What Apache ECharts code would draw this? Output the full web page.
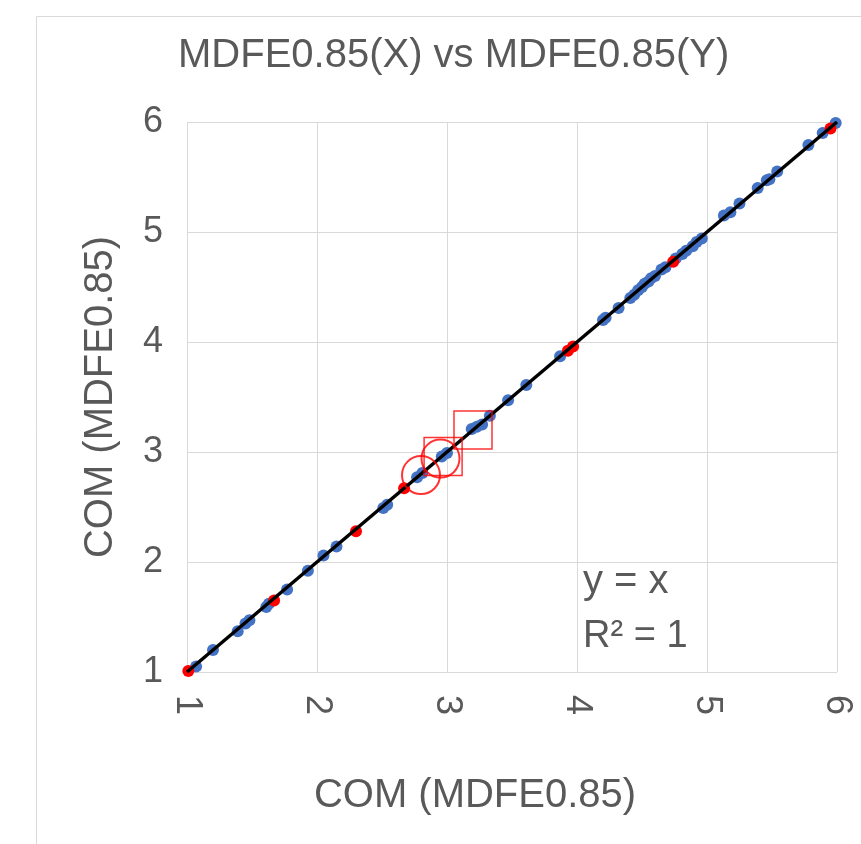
<!DOCTYPE html>
<html>
<head>
<meta charset="utf-8">
<script src="https://cdn.jsdelivr.net/npm/echarts@6/dist/echarts.min.js"></script>
<style>html,body{margin:0;padding:0;background:#fff;}#c{width:861px;height:844px;}</style>
</head>
<body>
<div id="c"></div>
<script>
const titleText = 'MDFE0.85(X) vs MDFE0.85(Y)';
const xName = 'COM (MDFE0.85)';
const yName = 'COM (MDFE0.85)';
const axisTicks = [1, 2, 3, 4, 5, 6];

const blueX = [1.07,1.20,1.39,1.45,1.48,1.61,1.63,1.77,1.93,2.05,2.15,2.51,2.54,2.77,2.81,2.96,3.00,3.19,3.23,3.27,3.33,3.47,3.61,3.87,4.20,4.22,4.32,4.41,4.44,4.47,4.50,4.52,4.55,4.57,4.60,4.65,4.68,4.76,4.81,4.84,4.89,4.92,4.96,5.13,5.18,5.25,5.39,5.46,5.48,5.54,5.78,5.89,5.99];
const blueY = [1.05,1.20,1.37,1.44,1.47,1.59,1.62,1.75,1.92,2.06,2.14,2.49,2.52,2.77,2.81,2.96,2.99,3.21,3.23,3.25,3.33,3.47,3.61,3.87,4.20,4.22,4.31,4.40,4.43,4.47,4.50,4.53,4.55,4.58,4.60,4.66,4.68,4.76,4.80,4.83,4.87,4.91,4.94,5.15,5.18,5.26,5.40,5.47,5.48,5.55,5.79,5.90,5.99];
const redX = [1.01,1.67,2.30,2.67,3.93,3.97,4.74,5.95];
const redY = [1.01,1.65,2.28,2.67,3.92,3.96,4.73,5.94];
const circleX = [2.80,2.95];
const circleY = [2.79,2.94];
const squareX = [2.97,3.20];
const squareY = [2.96,3.20];
const trendX = [1, 6];
const trendY = [1, 6];
const eqText = 'y = x';
const r2Text = 'R² = 1';

const zip = (a, b) => a.map((v, i) => [v, b[i]]);
const FONT = "'Liberation Sans', Arial, sans-serif";
const TXT = '#595959';

const chart = echarts.init(document.getElementById('c'), null, {renderer: 'canvas'});
const axisCommon = {
  type: 'value', min: axisTicks[0], max: axisTicks[axisTicks.length - 1], interval: 1,
  axisLine: {show: false}, axisTick: {show: false},
  splitLine: {show: true, lineStyle: {color: '#d9d9d9', width: 1}},
  nameLocation: 'middle'
};
chart.setOption({
  animation: false,
  backgroundColor: '#fff',
  title: {text: titleText, left: 173, top: 31,
    textStyle: {color: TXT, fontSize: 40, fontWeight: 'normal', fontFamily: FONT}},
  grid: {left: 187, right: 24, top: 122, bottom: 172},
  xAxis: Object.assign({}, axisCommon, {
    name: xName, nameGap: 104,
    nameTextStyle: {color: TXT, fontSize: 40, fontFamily: FONT, padding: [0, 74, 0, 0]},
    axisLabel: {color: TXT, fontSize: 36, fontFamily: FONT, rotate: -90, margin: 23}
  }),
  yAxis: Object.assign({}, axisCommon, {
    name: yName, nameGap: 66,
    nameTextStyle: {color: TXT, fontSize: 40, fontFamily: FONT},
    axisLabel: {color: TXT, fontSize: 36, fontFamily: FONT, margin: 24}
  }),
  graphic: [
    {type: 'rect', left: 34, top: 14, z: -10, silent: true,
      shape: {width: 825, height: 900}, style: {fill: 'none', stroke: '#d9d9d9', lineWidth: 1}},
    {type: 'text', left: 583, top: 562, style: {text: eqText, fill: TXT, fontSize: 40, fontFamily: FONT}},
    {type: 'text', left: 583, top: 618, style: {text: r2Text, fill: TXT, fontSize: 38, fontFamily: FONT}}
  ],
  series: [
    {type: 'scatter', data: zip(blueX, blueY), symbolSize: 12, z: 2,
      itemStyle: {color: '#4472C4', opacity: 1}},
    {type: 'scatter', data: zip(redX, redY), symbolSize: 12, z: 3,
      itemStyle: {color: '#FF0000', opacity: 1}},
    {type: 'line', data: zip(trendX, trendY), symbol: 'none', z: 4,
      lineStyle: {color: '#000', width: 3.5}},
    {type: 'scatter', data: zip(circleX, circleY), symbol: 'circle', symbolSize: 38, z: 5,
      itemStyle: {color: 'rgba(0,0,0,0)', borderColor: '#FF0000', borderWidth: 2}},
    {type: 'scatter', data: zip(squareX, squareY), symbol: 'rect', symbolSize: 38, z: 5,
      itemStyle: {color: 'rgba(0,0,0,0)', borderColor: '#FF0000', borderWidth: 1.5}}
  ]
});
</script>
</body>
</html>
